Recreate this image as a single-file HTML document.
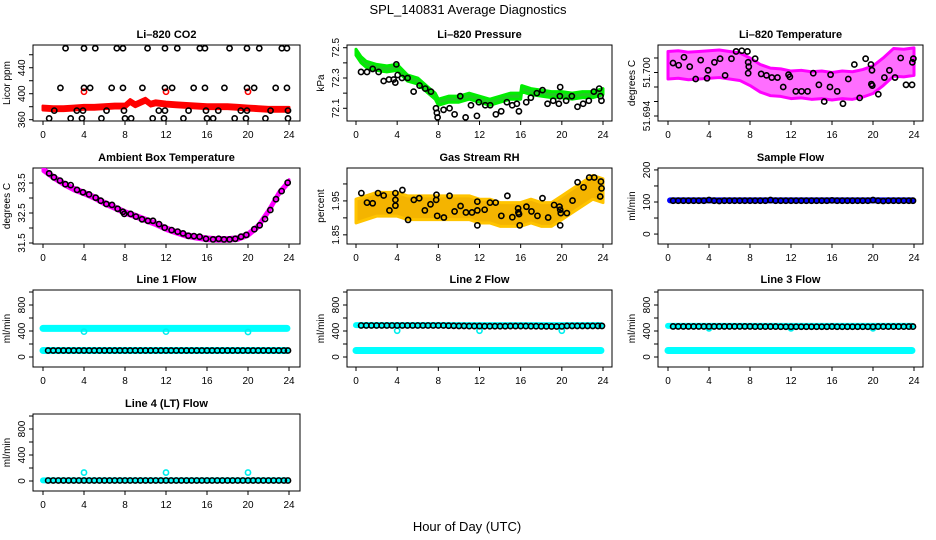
<!DOCTYPE html>
<html><head><meta charset="utf-8"><style>
body{margin:0;background:#fff}
svg{display:block;font-family:"Liberation Sans",sans-serif}
</style></head><body>
<svg id="c" width="936" height="540" viewBox="0 0 936 540">
<text x="468" y="14" font-size="13" text-anchor="middle">SPL_140831  Average Diagnostics</text>
<text x="467" y="531" font-size="13" text-anchor="middle">Hour of Day (UTC)</text>
</svg>
<script>
// ---------------- data ----------------
const xTicks=[0,4,8,12,16,20,24];
const flowTicks=[0,200,400,600,800,1000];
const flowLabels=["0","","400","","800",""];
// CO2
const co2BandHours=[0,1,2,3,4,5,6,7,8,8.5,9,10,10.5,11,12,13,14,15,16,17,18,19,20,21,22,23,24];
const co2BandVals=[378,377,377,378,379,379,380,381,381,388,383,390,384,386,384,383,382,381,380,380,380,379,378,377,376,376,376];
const co2RedOutHours=[4,12,20];const co2RedOutVals=[403,403,403];
const co2BlkHours=[2.2,4.0,5.1,7.2,7.8,10.2,11.9,13.1,15.3,15.8,18.2,19.9,21.1,23.3,23.8,1.7,4.0,4.6,6.7,7.8,9.7,11.9,12.6,14.7,15.8,17.7,19.9,20.6,22.7,23.8,1.1,3.3,3.9,6.2,7.9,11.3,11.9,14.2,15.9,17.1,19.3,19.9,22.2,23.9,0.6,2.7,3.8,5.7,8.0,8.6,10.7,11.8,13.7,16.0,16.6,18.7,19.8,21.7,23.9];
const co2BlkVals=[470,470,470,470,470,470,470,470,470,470,470,470,470,470,470,409,409,409,409,409,409,409,409,409,409,409,409,409,409,409,374,374,374,374,374,374,374,374,374,374,374,374,374,374,362,362,362,362,362,362,362,362,362,362,362,362,362,362,362];
// Pressure
const presBandHours=[0,0.5,1,2,3,4,5,6,7,7.7,8,9,10,11,12,13,14,15,16,16.1,17,18,19,20,21,22,23,24];
const presBandVals=[72.47,72.42,72.39,72.37,72.36,72.37,72.30,72.28,72.22,72.18,72.14,72.16,72.16,72.18,72.16,72.14,72.16,72.18,72.18,72.23,72.21,72.20,72.19,72.19,72.18,72.19,72.19,72.21];
const presBlkHours=[0.49,1.07,1.62,2.2,2.69,3.2,3.66,3.82,3.92,4.05,4.47,5.02,5.6,6.18,6.73,7.28,7.77,7.86,7.93,8.51,9.09,9.58,10.13,10.65,11.17,11.75,11.94,12.56,13.04,13.59,14.11,14.66,15.18,15.63,15.83,16.54,16.99,17.57,18.12,18.61,19.16,19.71,19.81,19.84,20.42,20.97,21.52,22.07,22.62,23.11,23.63,23.76,23.85];
const presBlkVals=[72.34,72.34,72.36,72.34,72.28,72.29,72.29,72.27,72.39,72.32,72.30,72.30,72.21,72.25,72.23,72.21,72.10,72.07,72.04,72.09,72.10,72.06,72.18,72.04,72.12,72.05,72.14,72.12,72.12,72.06,72.08,72.14,72.12,72.13,72.08,72.14,72.17,72.20,72.22,72.13,72.15,72.13,72.18,72.24,72.15,72.18,72.11,72.13,72.15,72.21,72.23,72.18,72.15];
// Li-820 temperature
const tempBandHours=[0,1,2,3,4,5,6,7,8,9,10,11,12,13,14,15,16,17,18,19,20,21,22,23,24];
const tempBandVals=[51.7010,51.7011,51.7009,51.7010,51.7011,51.7012,51.7010,51.7008,51.7001,51.6992,51.6987,51.6986,51.6983,51.6984,51.6982,51.6983,51.6981,51.6983,51.6982,51.6985,51.6990,51.7001,51.7014,51.7013,51.7015];
const tempBlkHours=[0.49,1.04,1.56,2.12,2.70,3.19,3.81,3.91,4.53,5.08,5.57,6.19,6.64,7.20,7.75,7.82,7.88,7.82,8.50,9.09,9.61,10.13,10.68,11.24,11.76,11.89,12.47,13.03,13.62,14.17,14.72,15.24,15.86,15.80,16.51,17.07,17.59,18.18,18.70,19.28,19.80,19.90,19.84,19.93,20.52,21.11,21.60,22.15,22.70,23.22,23.81,23.84,23.94];
const tempBlkVals=[51.7013,51.7010,51.7021,51.7008,51.6991,51.7017,51.6992,51.7003,51.7014,51.7019,51.6996,51.7019,51.7029,51.7030,51.7029,51.7014,51.7008,51.6999,51.7019,51.6998,51.6996,51.6993,51.6993,51.6980,51.6997,51.6994,51.6974,51.6974,51.6974,51.6999,51.6983,51.6960,51.6997,51.6980,51.6974,51.6957,51.6991,51.7011,51.6965,51.7019,51.7011,51.7003,51.6984,51.6982,51.6970,51.6993,51.7003,51.6993,51.7020,51.6983,51.6983,51.7014,51.7019];
// Ambient
const ambBandHours=[0,1,2,3,4,5,6,7,8,9,10,11,12,13,14,15,16,17,18,19,20,21,22,23,24];
const ambBandVals=[33.95,33.70,33.48,33.30,33.17,33.02,32.83,32.68,32.52,32.40,32.27,32.14,31.98,31.86,31.75,31.69,31.64,31.62,31.62,31.65,31.78,32.06,32.56,33.15,33.55];
const ambBlkHours=[0.6,1.07,1.66,2.18,2.7,3.32,3.9,4.49,5.14,5.63,6.18,6.73,7.28,7.8,7.93,8.55,9.07,9.66,10.24,10.73,11.32,11.87,12.55,13.14,13.66,14.18,14.73,15.28,15.9,16.59,17.14,17.66,18.21,18.76,19.32,19.84,20.62,21.14,21.66,22.18,22.73,23.28,23.87];
const ambBlkVals=[33.82,33.69,33.58,33.46,33.43,33.27,33.19,33.12,33.01,32.91,32.80,32.77,32.64,32.54,32.47,32.47,32.38,32.29,32.24,32.24,32.13,32.01,31.93,31.88,31.82,31.74,31.73,31.71,31.64,31.62,31.64,31.62,31.62,31.64,31.71,31.77,31.96,32.09,32.30,32.60,32.96,33.23,33.51];
// RH
const rhBandHours=[0,1,2,3,4,5,6,7,8,9,10,11,12,13,14,15,16,17,18,19,20,21,22,23,24];
const rhBandVals=[1.92,1.93,1.94,1.94,1.94,1.93,1.93,1.93,1.93,1.93,1.93,1.93,1.92,1.92,1.91,1.91,1.91,1.92,1.91,1.91,1.93,1.95,1.97,1.99,1.98];
const rhBlkHours=[0.52,1.07,1.62,2.14,2.69,3.25,3.83,3.83,3.83,4.51,5.06,5.62,6.14,6.69,7.24,7.79,7.82,7.89,8.54,9.09,9.58,10.16,10.68,11.27,11.79,11.79,11.79,12.5,13.02,13.57,14.12,14.71,15.19,15.75,15.78,15.84,15.91,16.56,17.05,17.63,18.12,18.67,19.25,19.77,19.84,19.9,19.84,20.49,21.04,21.53,22.11,22.66,23.15,23.8,23.86,23.73];
const rhBlkVals=[1.973,1.945,1.943,1.973,1.966,1.922,1.973,1.953,1.936,1.982,1.894,1.953,1.958,1.922,1.940,1.953,1.968,1.906,1.901,1.965,1.919,1.935,1.916,1.916,1.922,1.948,1.878,1.924,1.945,1.945,1.906,1.965,1.902,1.928,1.916,1.911,1.878,1.933,1.919,1.906,1.958,1.901,1.938,1.933,1.924,1.914,1.878,1.914,1.951,2.005,1.990,2.019,2.019,2.007,1.987,1.963];
// Black half-hourly points for flow panels
const halfHours=[0.5,1,1.5,2,2.5,3,3.5,4,4.5,5,5.5,6,6.5,7,7.5,8,8.5,9,9.5,10,10.5,11,11.5,12,12.5,13,13.5,14,14.5,15,15.5,16,16.5,17,17.5,18,18.5,19,19.5,20,20.5,21,21.5,22,22.5,23,23.5,23.9];
const sampleBlkVals=[104,104,104,104,104,104,104,106,104,103,104,104,104,104,104,104,104,104,104,106,104,104,104,104,104,104,104,104,104,104,104,105,104,104,104,104,104,104,104,106,104,103,104,104,104,104,104,104];
const line1BlkVals=[100,100,100,100,100,100,100,100,100,100,100,100,100,100,100,100,100,100,100,100,100,100,100,100,100,100,100,100,100,100,100,100,100,100,100,100,100,100,100,100,100,100,100,100,100,100,100,100];
const line2BlkVals=[485,485,485,485,485,485,485,485,485,485,485,485,485,485,485,485,485,482,480,478,478,476,476,476,474,474,474,474,474,476,476,476,476,474,474,472,472,470,470,472,478,478,478,478,478,478,478,478];
const line3BlkVals=[470,470,470,470,470,470,470,470,470,470,470,470,470,470,470,470,468,468,468,468,468,466,466,466,466,466,466,466,466,466,466,468,466,466,466,466,466,466,466,466,468,468,468,468,468,468,468,468];
const line4BlkVals=[8,8,8,8,8,8,8,8,8,8,8,8,8,8,8,8,8,8,8,8,8,8,8,8,8,8,8,8,8,8,8,8,8,8,8,8,8,8,8,8,8,8,8,8,8,8,8,8];
// Flow band levels (start, end hour) and outliers
const sampleBand=[[0.2,105],[23.9,105]];
const line1Upper=[[0,440],[23.8,440]];const line1Lower=[[0,100],[23.8,100]];
const line2Upper=[[0,490],[23.8,490]];const line2Lower=[[0,100],[23.8,100]];
const line3Upper=[[0,478],[23.8,478]];const line3Lower=[[0,100],[23.8,100]];
const line4Band=[[0,10],[23.8,10]];
const outHours=[4,12,20];
const line1Out=[390,390,385];const line2Out=[405,405,405];const line3Out=[440,440,440];const line4Out=[130,130,130];

// ---------------- drawing ----------------
const svg=document.getElementById('c');
const NS='http://www.w3.org/2000/svg';
function mk(tag,attrs,parent){const e=document.createElementNS(NS,tag);for(const k in attrs)e.setAttribute(k,attrs[k]);(parent||svg).appendChild(e);return e;}
const cols=[{l:33,r:300,x0:43,x24:289},{l:347,r:612,x0:356,x24:603},{l:658,r:923,x0:668,x24:914}];
const rows=[{t:45,b:121},{t:168,b:244},{t:290,b:367},{t:414,b:491}];
function panel(name,title,ci,ri,ymin,ymax,ticks,labels,ytitle){
  const c=cols[ci],r=rows[ri];
  const g=mk('g',{});
  
  
  const X=h=>c.x0+(c.x24-c.x0)*h/24;
  const Y=v=>r.b-(v-ymin)/(ymax-ymin)*(r.b-r.t);
  const t=mk('text',{x:(c.l+c.r)/2,y:r.t-7,'font-size':11,'font-weight':'bold','text-anchor':'middle'},g);t.textContent=title;
  
  
  const box=mk('rect',{x:c.l,y:r.t,width:c.r-c.l,height:r.b-r.t,fill:'none',stroke:'#000','stroke-width':1},g);
  
  
  const ax=mk('g',{},g);
  
  
  xTicks.forEach(h=>{mk('line',{x1:X(h),x2:X(h),y1:r.b,y2:r.b+4,stroke:'#000'},ax);
    const tl=mk('text',{x:X(h),y:r.b+17,'font-size':10,'text-anchor':'middle'},ax);tl.textContent=h;});
  const ay=mk('g',{},g);
  
  
  ticks.forEach((v,i)=>{const y=Y(v);mk('line',{x1:c.l-4,x2:c.l,y1:y,y2:y,stroke:'#000'},ay);
    if(labels[i]){const tl=mk('text',{x:c.l-8,y:y,'font-size':10,'text-anchor':'middle',transform:`rotate(-90 ${c.l-8} ${y})`},ay);tl.textContent=labels[i];}});
  const yt=mk('text',{x:c.l-23,y:(r.t+r.b)/2,'font-size':10,'text-anchor':'middle',transform:`rotate(-90 ${c.l-23} ${(r.t+r.b)/2})`},g);yt.textContent=ytitle;
  
  
  const clip='clip'+name;const cp=mk('clipPath',{id:clip},g);mk('rect',{x:c.l,y:r.t,width:c.r-c.l,height:r.b-r.t},cp);
  const pg=mk('g',{'clip-path':`url(#${clip})`},g);
  return {X,Y,g:pg};
}
function band(p,hours,vals,half,fill,stroke,name,op){
  let top=hours.map((h,i)=>`${p.X(h)},${p.Y(vals[i]+half)}`);
  let bot=hours.map((h,i)=>`${p.X(h)},${p.Y(vals[i]-half)}`).reverse();
  const e=mk('polygon',{points:top.concat(bot).join(' '),fill:fill,stroke:stroke,'stroke-width':3,'stroke-linejoin':'round','fill-opacity':op||1},p.g);
  
  
}
function pts(p,hours,vals,color,name,r){
  const g=mk('g',{},p.g);
  
  
  hours.forEach((h,i)=>{const e=mk('circle',{cx:p.X(h),cy:p.Y(vals[i]),r:r||2.6,fill:'none',stroke:color,'stroke-width':1.6},g);
    
    });
}
function hband(p,seg,width,color,name){
  const e=mk('line',{x1:p.X(seg[0][0]),y1:p.Y(seg[0][1]),x2:p.X(seg[1][0]),y2:p.Y(seg[1][1]),stroke:color,'stroke-width':width,'stroke-linecap':'round'},p.g);
  
  
}
// Panel 1
let p=panel('co2-panel','Li\u2013820 CO2',0,0,358,475,[360,380,400,420,440,460],["360","","400","","440",""],'Licor ppm');
band(p,co2BandHours,co2BandVals,3,'#ff0000','#ff0000','co2-red-series');
pts(p,co2RedOutHours,co2RedOutVals,'#ff0000','co2-red-outliers');
pts(p,co2BlkHours,co2BlkVals,'#000','co2-black-series');
// Panel 2
p=panel('pressure-panel','Li\u2013820 Pressure',1,0,72.016,72.518,[72.1,72.2,72.3,72.4,72.5],["72.1","","72.3","","72.5"],'kPa');
band(p,presBandHours,presBandVals,0.02,'#22cc22','#00ee00','pressure-green-series');
pts(p,presBlkHours,presBlkVals,'#000','pressure-black-series');
// Panel 3
p=panel('temperature-panel','Li\u2013820 Temperature',2,0,51.69331,51.70379,[51.694,51.696,51.698,51.700,51.702],["51.694","","","51.700",""],'degrees C');
band(p,tempBandHours,tempBandVals,0.0019,'#ff55ff','#ff00ff','temperature-magenta-series',0.85);
pts(p,tempBlkHours,tempBlkVals,'#000','temperature-black-series');
// Panel 4
p=panel('ambient-panel','Ambient Box Temperature',0,1,31.467,34.0,[31.5,32,32.5,33,33.5],["31.5","","32.5","","33.5"],'degrees C');
band(p,ambBandHours,ambBandVals,0.06,'#ff00ff','#ff00ff','ambient-magenta-series');
pts(p,ambBlkHours,ambBlkVals,'#000','ambient-black-series');
// Panel 5
p=panel('rh-panel','Gas Stream RH',1,1,1.823,2.047,[1.85,1.90,1.95,2.00],["1.85","","1.95",""],'percent');
band(p,rhBandHours,rhBandVals,0.035,'#f4b400','#ffc400','rh-orange-series');
pts(p,rhBlkHours,rhBlkVals,'#000','rh-black-series');
// Panel 6
p=panel('sample-flow-panel','Sample Flow',2,1,-31,206,[0,50,100,150,200],["0","","100","","200"],'ml/min');
hband(p,sampleBand,6,'#0000ff','sample-blue-series');
pts(p,halfHours,sampleBlkVals,'#000','sample-black-series');
// Panel 7
p=panel('line1-flow-panel','Line 1 Flow',0,2,-154,1031,flowTicks,flowLabels,'ml/min');
hband(p,line1Upper,7,'#00ffff','line1-cyan-upper');
hband(p,line1Lower,7,'#00ffff','line1-cyan-lower');
pts(p,outHours,line1Out,'#00eeee','line1-cyan-outliers');
pts(p,halfHours,line1BlkVals,'#000','line1-black-series');
// Panel 8
p=panel('line2-flow-panel','Line 2 Flow',1,2,-154,1031,flowTicks,flowLabels,'ml/min');
hband(p,line2Upper,6,'#00ffff','line2-cyan-upper');
hband(p,line2Lower,7,'#00ffff','line2-cyan-lower');
pts(p,outHours,line2Out,'#00eeee','line2-cyan-outliers');
pts(p,halfHours,line2BlkVals,'#000','line2-black-series');
// Panel 9
p=panel('line3-flow-panel','Line 3 Flow',2,2,-154,1031,flowTicks,flowLabels,'ml/min');
hband(p,line3Upper,6,'#00ffff','line3-cyan-upper');
hband(p,line3Lower,7,'#00ffff','line3-cyan-lower');
pts(p,outHours,line3Out,'#00eeee','line3-cyan-outliers');
pts(p,halfHours,line3BlkVals,'#000','line3-black-series');
// Panel 10
p=panel('line4-flow-panel','Line 4 (LT) Flow',0,3,-154,1031,flowTicks,flowLabels,'ml/min');
hband(p,line4Band,6,'#00ffff','line4-cyan-series');
pts(p,outHours,line4Out,'#00eeee','line4-cyan-outliers');
pts(p,halfHours,line4BlkVals,'#000','line4-black-series');
</script>
</body></html>
